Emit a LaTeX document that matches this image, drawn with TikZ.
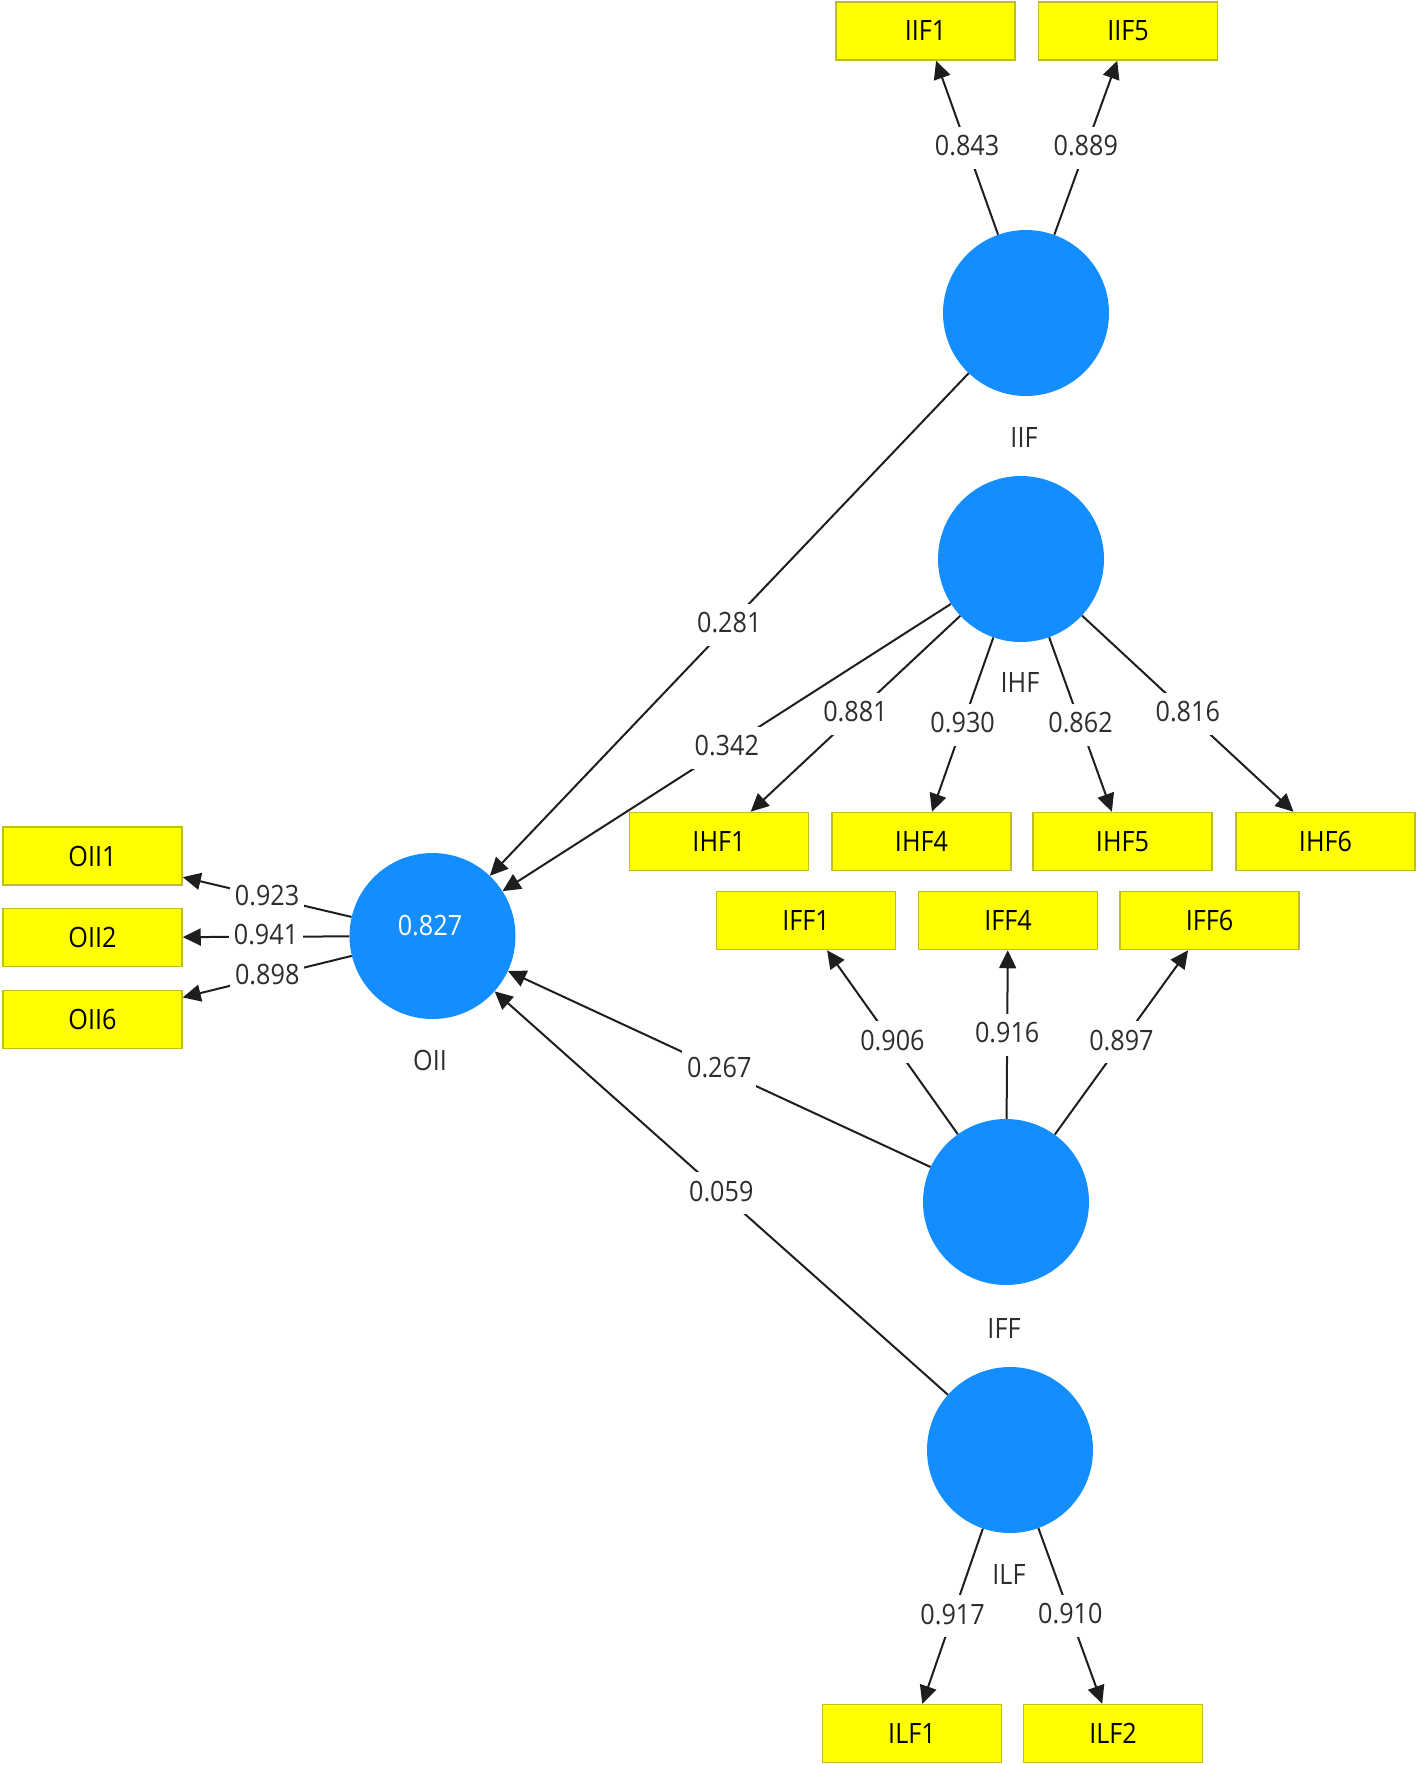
\documentclass[tikz,border=0pt]{standalone}
\usepackage{fontspec}
\setmainfont[FakeStretch=0.9]{Open Sans}
\usetikzlibrary{arrows.meta}
\definecolor{lvblue}{RGB}{20,142,255}
\definecolor{mvyellow}{RGB}{255,255,0}
\definecolor{mvborder}{RGB}{190,190,30}
\definecolor{txtgray}{RGB}{45,45,45}
\definecolor{linegray}{RGB}{30,30,30}
\begin{document}
\begin{tikzpicture}[x=1pt,y=-1pt,
  txt/.style={font=\fontsize{28}{32}\selectfont},
  lv/.style={circle, fill=lvblue, minimum size=166pt, inner sep=0pt},
  mv/.style={txt, rectangle, fill=mvyellow, draw=mvborder, line width=1.5pt,
    minimum width=179pt, minimum height=58pt, inner sep=0pt, text=black},
  coef/.style={txt, fill=white, text=txtgray, inner xsep=5pt, inner ysep=8pt,
    text height=21pt, text depth=5pt},
  lvname/.style={txt, text=txtgray},
  link/.style={draw=linegray, line width=2pt, -{Triangle[length=18pt,width=17pt]}}
]
\useasboundingbox (0,0) rectangle (1416,1765);

% latent variables
\node[lv] (IIF) at (1026,313) {};
\node[lv] (IHF) at (1021,559) {};
\node[lv] (OII) at (432.5,936) {};
\node[lv] (IFF) at (1006,1202) {};
\node[lv] (ILF) at (1010,1450) {};
\node[txt, text=white] (OIIr2) at (430,926) {0.827};

\node[lvname] (IIFn) at (1024,437) {IIF};
\node[lvname] (IHFn) at (1020,682) {IHF};
\node[lvname] (OIIn) at (430,1060) {OII};
\node[lvname] (IFFn) at (1004,1328) {IFF};
\node[lvname] (ILFn) at (1009,1574) {ILF};

% indicators
\node[mv] (IIF1) at (925.5,31) {IIF1};
\node[mv] (IIF5) at (1128,31) {IIF5};
\node[mv] (IHF1) at (719,841.5) {IHF1};
\node[mv] (IHF4) at (921.5,841.5) {IHF4};
\node[mv] (IHF5) at (1122.5,841.5) {IHF5};
\node[mv] (IHF6) at (1325.5,841.5) {IHF6};
\node[mv] (IFF1) at (806,920.5) {IFF1};
\node[mv] (IFF4) at (1008,920.5) {IFF4};
\node[mv] (IFF6) at (1209.5,920.5) {IFF6};
\node[mv] (OII1) at (92.5,856) {OII1};
\node[mv] (OII2) at (92.5,937.5) {OII2};
\node[mv] (OII6) at (92.5,1019.5) {OII6};
\node[mv] (ILF1) at (912,1733.5) {ILF1};
\node[mv] (ILF2) at (1113,1733.5) {ILF2};

% structural paths
\draw[link] (IIF) -- node[coef] {0.281} (OII);
\draw[link] (IHF) -- node[coef] {0.342} (OII);
\draw[link] (IFF) -- node[coef] {0.267} (OII);
\draw[link] (ILF) -- node[coef] {0.059} (OII);

% loadings
\draw[link] (IIF) -- node[coef] {0.843} (IIF1);
\draw[link] (IIF) -- node[coef] {0.889} (IIF5);
\draw[link] (IHF) -- node[coef] {0.881} (IHF1);
\draw[link] (IHF) -- node[coef] {0.930} (IHF4);
\draw[link] (IHF) -- node[coef] {0.862} (IHF5);
\draw[link] (IHF) -- node[coef] {0.816} (IHF6);
\draw[link] (IFF) -- node[coef] {0.906} (IFF1);
\draw[link] (IFF) -- node[coef] {0.916} (IFF4);
\draw[link] (IFF) -- node[coef] {0.897} (IFF6);
\draw[link] (ILF) -- node[coef] {0.917} (ILF1);
\draw[link] (ILF) -- node[coef] {0.910} (ILF2);
\draw[link] (OII) -- node[coef] {0.923} (OII1);
\draw[link] (OII) -- node[coef] {0.941} (OII2);
\draw[link] (OII) -- node[coef] {0.898} (OII6);
\end{tikzpicture}
\end{document}
